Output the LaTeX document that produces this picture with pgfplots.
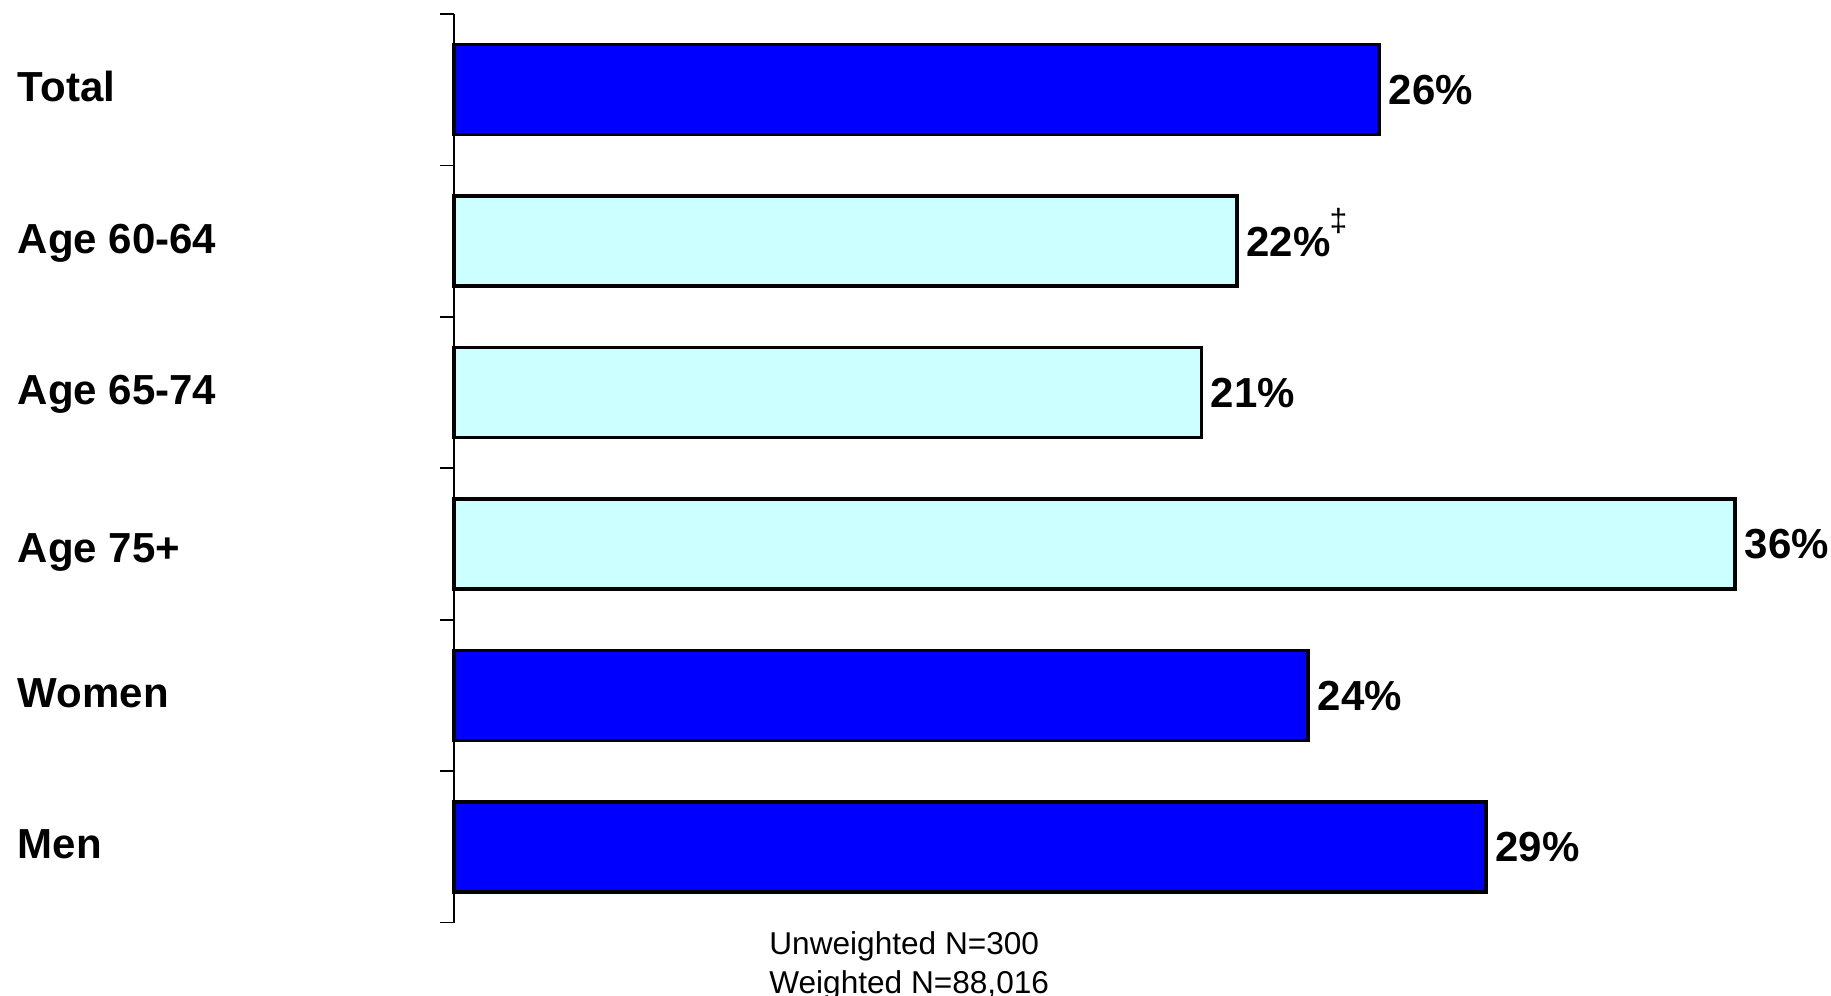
\documentclass[border=0pt]{standalone}
\usepackage{pgfplots}
\pgfplotsset{compat=1.18}
\usepackage{fontspec}
\setmainfont{Liberation Sans}
\definecolor{barblue}{RGB}{0,0,255}
\definecolor{barcyan}{RGB}{204,255,255}
\begin{document}
\begin{tikzpicture}
\useasboundingbox (-227bp,-36.75bp) rectangle (688.5bp,461.25bp);
\begin{axis}[
  at={(0,0)}, anchor=south west,
  scale only axis,
  width=640.5bp, height=454.25bp,
  xmin=0, xmax=36,
  ymin=-0.5, ymax=5.5,
  y dir=reverse,
  axis x line=none,
  axis y line*=left,
  y axis line style={line width=0.85bp, black},
  xbar, bar shift=0pt, bar width=45bp,
  ytick={0,1,2,3,4,5},
  yticklabels={Total, Age 60-64, Age 65-74, \raisebox{-3.5bp}{Age 75+}, Women, Men},
  major tick length=0pt,
  minor ytick={-0.5,0.5,1.5,2.5,3.5,4.5,5.5},
  minor tick length=7bp,
  tick align=outside,
  every tick/.style={line width=0.85bp, black},
  yticklabel style={font=\bfseries\fontsize{21bp}{24bp}\selectfont, anchor=base west, inner sep=0pt, xshift=-218.25bp, yshift=-6bp},
  clip=false,
  point meta=x,
  /pgf/number format/assume math mode=true,
  /pgf/number format/fixed, /pgf/number format/precision=0,
  nodes near coords={\pgfmathprintnumber{\pgfplotspointmeta}\%},
  every node near coord/.append style={font=\bfseries\fontsize{21bp}{24bp}\selectfont, anchor=base west, inner sep=0pt, xshift=4bp, yshift=-7.5bp, text=black},
]
\addplot[fill=barblue, draw=black, line width=1.7bp] coordinates {(26,0) (24,4) (29,5)};
\addplot[fill=barcyan, draw=black, line width=1.7bp] coordinates {(21,2) (36,3)};
\addplot[fill=barcyan, draw=black, line width=1.7bp,
  nodes near coords={\pgfmathprintnumber{\pgfplotspointmeta}\%\kern-0.5bp\raisebox{12.5bp}{\mdseries\fontsize{16bp}{17bp}\selectfont ‡}}] coordinates {(22,1)};
\end{axis}
\node[anchor=base west, inner sep=0pt, font=\fontsize{15.8bp}{19bp}\selectfont] at (157.5bp,-15.75bp) {Unweighted N=300};
\node[anchor=base west, inner sep=0pt, font=\fontsize{15.8bp}{19bp}\selectfont] at (157.5bp,-35.25bp) {Weighted N=88,016};
\end{tikzpicture}
\end{document}
